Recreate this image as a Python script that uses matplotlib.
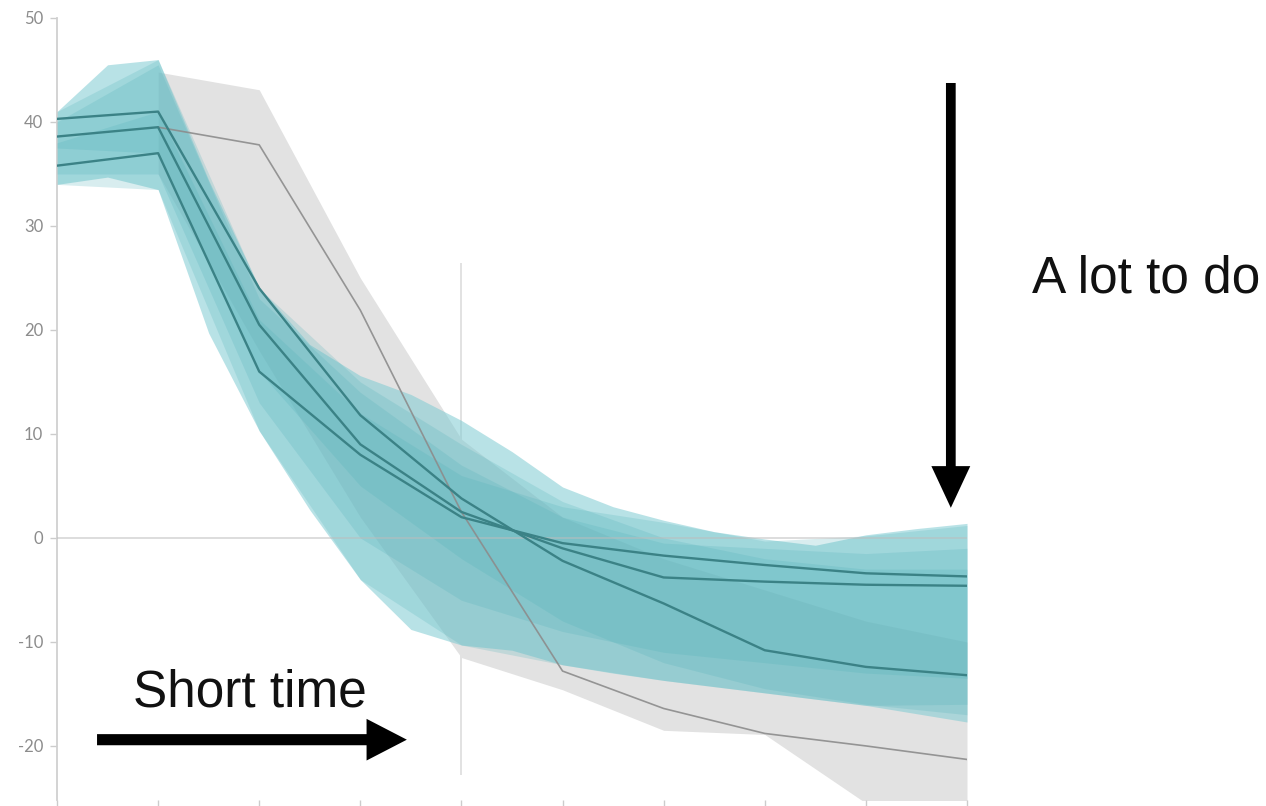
import matplotlib
matplotlib.use("Agg")
import matplotlib.pyplot as plt
from matplotlib.patches import FancyArrowPatch, ArrowStyle

# Time axis: decade ticks, envelope resolved at 5-year steps
years = list(range(2010, 2101, 10))
years_fine = list(range(2010, 2101, 5))
years_gray = list(range(2020, 2101, 10))
y_ticks = [-20, -10, 0, 10, 20, 30, 40, 50]

# Outer envelope of the teal pathway family
env_upper = [41.0, 45.5, 46.0, 34.4, 24.1, 18.6, 15.6, 13.8, 11.3, 8.3,
             4.9, 3.0, 1.7, 0.6, -0.1, -0.7, 0.3, 0.9, 1.4]
env_lower = [34.0, 34.7, 33.5, 19.7, 10.3, 2.7, -4.0, -8.8, -10.3, -10.8,
             -12.2, -13.0, -13.7, -14.3, -14.9, -15.5, -16.1, -16.9, -17.7]

# Ranges around each highlighted pathway
band_a_upper = [41.0, 46.0, 24.0, 15.0, 9.0, 3.5, 0.0, -2.0, -3.0, -3.0]
band_a_lower = [37.5, 37.0, 16.0, 5.0, -2.0, -8.0, -12.0, -14.5, -16.0, -17.0]
band_b_upper = [40.0, 45.5, 23.0, 14.0, 7.0, 2.0, -0.5, -1.0, -1.5, -1.0]
band_b_lower = [35.0, 35.0, 13.0, 0.0, -6.0, -9.0, -11.0, -12.0, -13.0, -13.5]
band_c_upper = [38.0, 41.0, 21.0, 12.0, 6.0, 3.0, 1.5, -0.3, 0.2, 1.2]
band_c_lower = [34.0, 33.5, 10.3, -4.0, -10.3, -12.2, -13.7, -14.9, -16.1, -16.0]

# Highlighted pathways
path_a = [40.3, 41.0, 24.0, 11.8, 3.8, -2.2, -6.3, -10.8, -12.4, -13.2]
path_b = [38.6, 39.5, 20.5, 9.0, 2.5, -1.0, -3.8, -4.2, -4.5, -4.6]
path_c = [35.8, 37.0, 16.0, 8.0, 2.0, -0.5, -1.7, -2.6, -3.4, -3.7]

# Delayed-action family (grey)
gray_upper = [44.8, 43.1, 25.0, 9.5, 2.0, -2.0, -5.0, -8.0, -10.0]
gray_lower = [35.0, 18.0, 2.0, -11.5, -14.6, -18.5, -18.9, -25.5, -26.0]
gray_path = [39.5, 37.8, 21.9, 2.5, -12.8, -16.4, -18.8, -20.0, -21.3]

TEAL_LIGHT = "#7fcbd2"
TEAL_MID = "#4fb0b8"
TEAL_DARK = "#3b8286"
GRAY_FILL = "#e2e2e2"
GRAY_LINE = "#8c8c8c"

fig = plt.figure(figsize=(12.66, 8.06), dpi=100)
ax = fig.add_axes([57 / 1266, 6 / 806, 910 / 1266, 782 / 806])

ax.set_xlim(2010, 2100)
ax.set_ylim(-25.2, 50)

# reference markers
ax.vlines(2050, -22.8, 26.4, color="#dddddd", lw=1.2, zorder=0.5)

# grey family
ax.fill_between(years_gray, gray_lower, gray_upper, color=GRAY_FILL,
                lw=0, zorder=1)

# teal family
ax.fill_between(years_fine, env_lower, env_upper, color=TEAL_LIGHT,
                alpha=0.55, lw=0, zorder=2)
for lo, hi in [(band_a_lower, band_a_upper),
               (band_b_lower, band_b_upper),
               (band_c_lower, band_c_upper)]:
    ax.fill_between(years, lo, hi, color=TEAL_MID, alpha=0.22, lw=0, zorder=3)

ax.axhline(0, color="#bdbdbd", lw=1.2, alpha=0.6, zorder=3.5)

ax.plot(years_gray, gray_path, color=GRAY_LINE, lw=1.2, alpha=0.9, zorder=4)
for p in (path_a, path_b, path_c):
    ax.plot(years, p, color=TEAL_DARK, lw=1.7, zorder=5)

# axes styling
for side in ("top", "right", "bottom"):
    ax.spines[side].set_visible(False)
ax.spines["left"].set_color("#d0d0d0")
ax.spines["left"].set_linewidth(1.3)

ax.set_xticks(years)
ax.set_xticklabels([])
ax.set_yticks(y_ticks)
ax.set_yticklabels([str(t) for t in y_ticks])
ax.tick_params(axis="x", length=5, width=1.0, color="#cccccc")
ax.tick_params(axis="y", length=5, width=1.0, color="#cccccc", pad=5,
               labelsize=12, labelcolor="#8c8c8c")
for lbl in ax.get_yticklabels():
    lbl.set_fontfamily("Lato")

# annotations
down = FancyArrowPatch((2098.4, 43.75), (2098.4, 2.9),
                       arrowstyle=ArrowStyle.Simple(head_length=30,
                                                    head_width=28,
                                                    tail_width=7),
                       mutation_scale=1, color="black", lw=0,
                       clip_on=False, zorder=10, shrinkA=0, shrinkB=0)
ax.add_patch(down)
right = FancyArrowPatch((2013.96, -19.4), (2044.6, -19.4),
                        arrowstyle=ArrowStyle.Simple(head_length=29,
                                                     head_width=30,
                                                     tail_width=8),
                        mutation_scale=1, color="black", lw=0,
                        clip_on=False, zorder=10, shrinkA=0, shrinkB=0)
ax.add_patch(right)

ax.text(2029.1, -16.25, "Short time", fontsize=37, family="Liberation Sans",
        ha="center", va="baseline", color="#111111", zorder=10)
ax.text(2106.4, 23.56, "A lot to do", fontsize=37, family="Liberation Sans",
        ha="left", va="baseline", color="#111111", clip_on=False, zorder=10)

fig.savefig("out.png", dpi=100)
